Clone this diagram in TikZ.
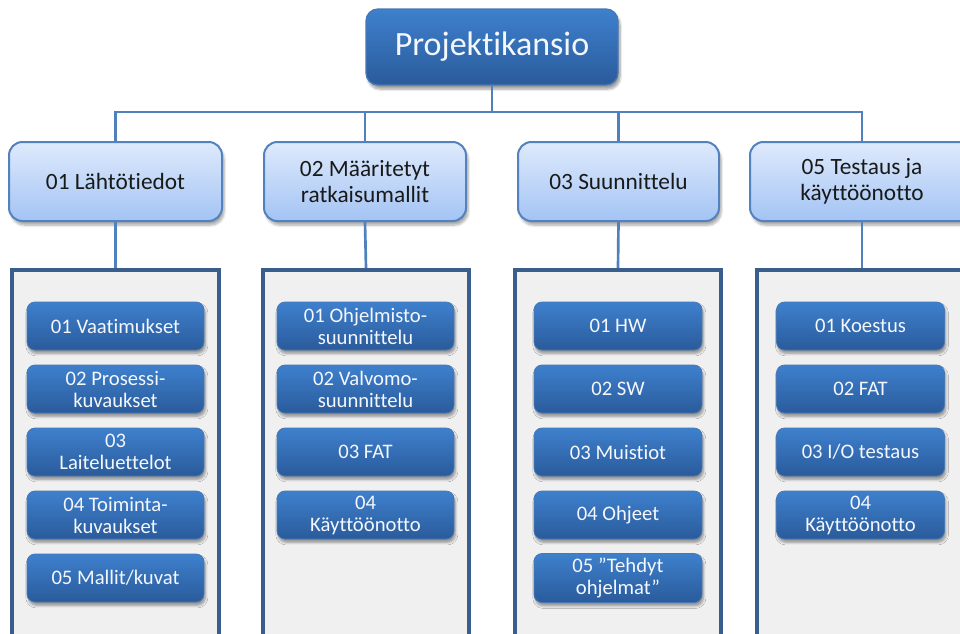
\documentclass[tikz,border=0pt]{standalone}
\usepackage{fontspec}
\setmainfont{Carlito}[Ligatures={NoCommon}, RawFeature={-liga}]
\usetikzlibrary{shadows.blur}
\definecolor{linkblue}{RGB}{79,129,189}
\definecolor{darktop}{RGB}{62,128,205}
\definecolor{darkbot}{RGB}{42,91,155}
\definecolor{darkedge}{RGB}{72,120,180}
\definecolor{lighttop}{RGB}{222,234,252}
\definecolor{lightbot}{RGB}{163,196,244}
\definecolor{lightedge}{RGB}{84,130,190}
\definecolor{framecol}{RGB}{58,94,140}
\definecolor{framefill}{RGB}{240,240,240}
\definecolor{textdark}{RGB}{25,25,25}
\definecolor{textlight}{RGB}{244,247,252}
\tikzset{
  link/.style={draw=linkblue, line width=2pt},
  rootbox/.style={rounded corners=9pt, top color=darktop, bottom color=darkbot,
    draw=darkedge, line width=1pt, text=textlight, font=\fontsize{25.5}{30}\selectfont,
    minimum width=189pt, minimum height=57pt,
    blur shadow={shadow xshift=1.5pt, shadow yshift=-3pt, shadow blur steps=6, shadow opacity=40}},
  groupbox/.style={rounded corners=10pt, top color=lighttop, bottom color=lightbot,
    draw=lightedge, line width=1.5pt, text=textdark, align=center,
    font=\fontsize{17.5}{19.5}\selectfont, minimum height=59.25pt,
    blur shadow={shadow xshift=1.5pt, shadow yshift=-3pt, shadow blur steps=6, shadow opacity=35}},
  folderframe/.style={draw=framecol, fill=framefill, line width=3pt,
    minimum width=155pt, minimum height=294pt},
  itembox/.style={rounded corners=6pt, top color=darktop, bottom color=darkbot,
    draw=darkedge, line width=0.6pt, text=textlight, align=center,
    font=\fontsize{15.5}{16.5}\selectfont, minimum width=132.75pt, minimum height=36pt,
    blur shadow={shadow xshift=1pt, shadow yshift=-2.5pt, shadow blur steps=5, shadow opacity=40}},
  narrowitem/.style={itembox, minimum width=126pt},
}
\begin{document}
\begin{tikzpicture}[x=0.75pt, y=-0.75pt]
  \useasboundingbox (0,0) rectangle (960,633);
  \clip (0,0) rectangle (960,633);

  % top level
  \node[rootbox] (top) at (492,47) {Projektikansio};

  % second level
  \node[groupbox, minimum width=159.75pt] (a1) at (115.5,181.5) {01 Lähtötiedot};
  \node[groupbox, minimum width=151.5pt] (a2) at (365,181.5) {02 Määritetyt\\ratkaisumallit};
  \node[groupbox, minimum width=150.75pt] (a3) at (618.5,181.5) {03 Suunnittelu};
  \node[groupbox, minimum width=168pt] (a4) at (862,181.5) {05 Testaus ja\\käyttöönotto};

  % folder frames
  \node[folderframe] (c1) at (115.5,466) {};
  \node[folderframe] (c2) at (366,466) {};
  \node[folderframe] (c3) at (618,466) {};
  \node[folderframe, minimum width=157.5pt] (c4) at (862,466) {};

  % connectors
  \coordinate (bus) at (0,112);
  \draw[link] (top.south) -- (top.south |- bus);
  \draw[link] (a1.north) -- (a1.north |- bus) -- (a4.north |- bus) -- (a4.north);
  \draw[link] (a2.north) -- (a2.north |- bus);
  \draw[link] (a3.north) -- (a3.north |- bus);
  \draw[link] (a1.south) -- (c1.north);
  \draw[link] (a2.south) -- (c2.north);
  \draw[link] (a3.south) -- (c3.north);
  \draw[link] (a4.south) -- (c4.north);

  % 01 Lähtötiedot
  \node[itembox] (b11) at (115.5,326) {01 Vaatimukset};
  \node[itembox] (b12) at (115.5,389) {02 Prosessi-\\kuvaukset};
  \node[itembox] (b13) at (115.5,452) {03\\Laiteluettelot};
  \node[itembox] (b14) at (115.5,515) {04 Toiminta-\\kuvaukset};
  \node[itembox] (b15) at (115.5,578) {05 Mallit/kuvat};

  % 02 Määritetyt ratkaisumallit
  \node[itembox] (b21) at (365.5,326) {01 Ohjelmisto-\\suunnittelu};
  \node[itembox] (b22) at (365.5,389) {02 Valvomo-\\suunnittelu};
  \node[itembox] (b23) at (365.5,452) {03 FAT};
  \node[itembox] (b24) at (365.5,515) {04\\Käyttöönotto};

  % 03 Suunnittelu
  \node[narrowitem] (b31) at (618,326) {01 HW};
  \node[narrowitem] (b32) at (618,389) {02 SW};
  \node[narrowitem] (b33) at (618,452) {03 Muistiot};
  \node[narrowitem] (b34) at (618,515) {04 Ohjeet};
  \node[narrowitem] (b35) at (618,578) {05 ”Tehdyt\\ohjelmat”};

  % 05 Testaus ja käyttöönotto
  \node[narrowitem] (b41) at (860.5,326) {01 Koestus};
  \node[narrowitem] (b42) at (860.5,389) {02 FAT};
  \node[narrowitem] (b43) at (860.5,452) {03 I/O testaus};
  \node[narrowitem] (b44) at (860.5,515) {04\\Käyttöönotto};
\end{tikzpicture}
\end{document}
